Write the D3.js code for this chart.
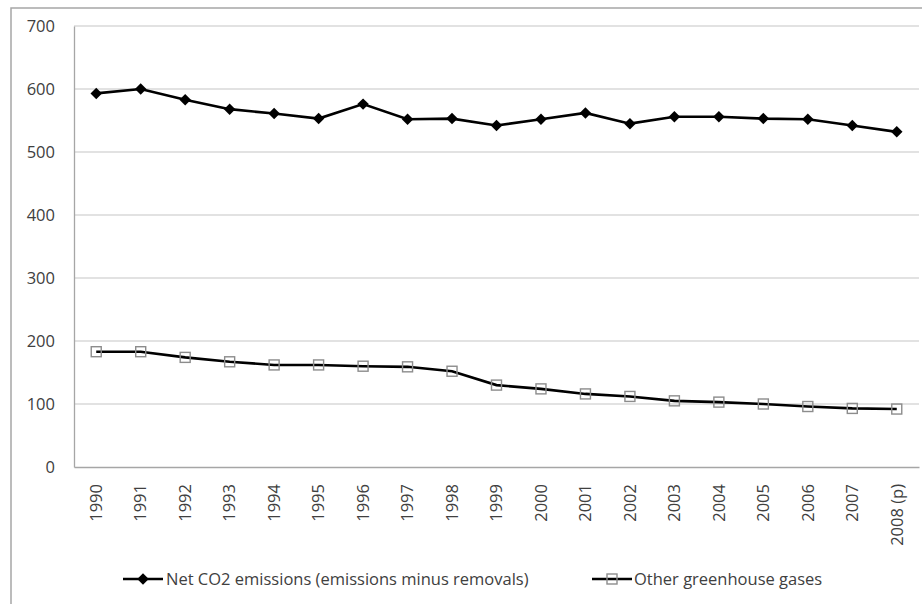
<!DOCTYPE html>
<html>
<head>
<meta charset="utf-8">
<script src="https://cdn.jsdelivr.net/npm/d3@7"></script>
<style>
  html, body { margin: 0; padding: 0; background: #fff; }
  svg { display: block; }
  text { font-family: "Open Sans", "Liberation Sans", sans-serif; fill: #404040; }
</style>
</head>
<body>
<svg id="chart" width="922" height="604"></svg>
<script>
const years = ["1990","1991","1992","1993","1994","1995","1996","1997","1998","1999","2000","2001","2002","2003","2004","2005","2006","2007","2008 (p)"];
const netCO2 = [593, 600, 583, 568, 561, 553, 576, 552, 553, 542, 552, 562, 545, 556, 556, 553, 552, 542, 532];
const otherGHG = [183, 183, 174, 167, 162, 162, 160, 159, 152, 130, 124, 116, 112, 105, 103, 100, 96, 93, 92];
const yTicks = [0, 100, 200, 300, 400, 500, 600, 700];
const seriesNames = ["Net CO2 emissions (emissions minus removals)", "Other greenhouse gases"];

const FS = "16.5px";
const svg = d3.select("#chart");

// outer frame
svg.append("rect").attr("x", 11).attr("y", 8).attr("width", 930).attr("height", 620)
  .attr("fill", "none").attr("stroke", "#a6a6a6").attr("stroke-width", 1.5);

const pLeft = 74, pRight = 919, pTop = 26, pBottom = 467;
const x = d3.scaleBand().domain(years).range([pLeft, pRight]);
const y = d3.scaleLinear().domain([0, 700]).range([pBottom, pTop]);

// gridlines
svg.append("g").selectAll("line").data(yTicks.filter(d => d > 0)).join("line")
  .attr("x1", pLeft).attr("x2", pRight)
  .attr("y1", d => y(d)).attr("y2", d => y(d))
  .attr("stroke", "#d9d9d9").attr("stroke-width", 1.3);

// y axis
const yAxis = svg.append("g").attr("transform", `translate(${pLeft},0)`)
  .call(d3.axisLeft(y).tickValues(yTicks).tickSize(0).tickPadding(19));
yAxis.select(".domain").attr("stroke", "#a6a6a6").attr("stroke-width", 1.3);
yAxis.selectAll("text").style("font-size", FS).attr("fill", "#404040");

// x axis
const xAxis = svg.append("g").attr("transform", `translate(0,${pBottom})`)
  .call(d3.axisBottom(x).tickSize(0));
xAxis.select(".domain").attr("stroke", "#a6a6a6").attr("stroke-width", 1.3);
xAxis.selectAll("text")
  .style("font-size", FS).attr("fill", "#404040")
  .attr("transform", "rotate(-90)")
  .attr("text-anchor", "end")
  .attr("x", -17).attr("y", 0).attr("dy", "0.35em");

const line = d3.line().x((d, i) => x(years[i]) + x.bandwidth() / 2).y(d => y(d));
const diamond = d3.symbol().type(d3.symbolSquare).size(66);

// Net CO2
svg.append("path").datum(netCO2).attr("d", line)
  .attr("fill", "none").attr("stroke", "#000").attr("stroke-width", 2.6);
svg.append("g").selectAll("path").data(netCO2).join("path")
  .attr("d", diamond)
  .attr("transform", (d, i) => `translate(${x(years[i]) + x.bandwidth() / 2},${y(d)}) rotate(45)`)
  .attr("fill", "#000");

// Other GHG
svg.append("path").datum(otherGHG).attr("d", line)
  .attr("fill", "none").attr("stroke", "#000").attr("stroke-width", 2.6);
svg.append("g").selectAll("rect").data(otherGHG).join("rect")
  .attr("x", (d, i) => x(years[i]) + x.bandwidth() / 2 - 5)
  .attr("y", d => y(d) - 5)
  .attr("width", 10).attr("height", 10)
  .attr("fill", "none").attr("stroke", "#8c8c8c").attr("stroke-width", 1.4);

// legend
const legY = 579;
const leg1 = svg.append("g");
leg1.append("line").attr("x1", 123).attr("x2", 163).attr("y1", legY).attr("y2", legY)
  .attr("stroke", "#000").attr("stroke-width", 2.6);
leg1.append("path").attr("d", diamond)
  .attr("transform", `translate(143,${legY}) rotate(45)`).attr("fill", "#000");
leg1.append("text").attr("x", 166).attr("y", legY).attr("dy", "0.35em")
  .style("font-size", FS).text(seriesNames[0]);

const leg2 = svg.append("g");
leg2.append("line").attr("x1", 592).attr("x2", 632).attr("y1", legY).attr("y2", legY)
  .attr("stroke", "#000").attr("stroke-width", 2.6);
leg2.append("rect").attr("x", 607).attr("y", legY - 5).attr("width", 10).attr("height", 10)
  .attr("fill", "none").attr("stroke", "#8c8c8c").attr("stroke-width", 1.4);
leg2.append("text").attr("x", 634).attr("y", legY).attr("dy", "0.35em")
  .style("font-size", FS).text(seriesNames[1]);
</script>
</body>
</html>
